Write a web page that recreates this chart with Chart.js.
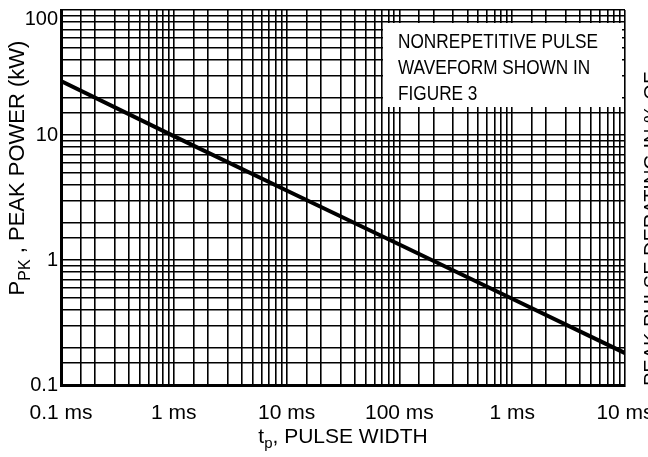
<!DOCTYPE html>
<html>
<head>
<meta charset="utf-8">
<script src="https://cdn.jsdelivr.net/npm/chart.js@4.4.0/dist/chart.umd.min.js"></script>
<style>
  html, body { margin: 0; padding: 0; background: #fff; }
  #wrap { width: 648px; height: 457px; }
</style>
</head>
<body>
<div id="wrap"><canvas id="c" width="648" height="457"></canvas></div>
<script>
// ---- data ----
const pulseWidth = [0.1, 1, 10, 100, 1000, 10000];
const peakPower  = [27, 9.8, 3.6, 1.33, 0.49, 0.18];
const xTickLabels = ["0.1 ms", "1 ms", "10 ms", "100 ms", "1 ms", "10 ms"];
const yTickLabels = ["0.1", "1", "10", "100"];
const gridSteps = [1, 1.5, 2, 3, 4, 5, 6, 7, 8, 9];
const noteLines = ["NONREPETITIVE PULSE", "WAVEFORM SHOWN IN", "FIGURE 3"];
const xTitle = { main: "t", sub: "p", rest: ", PULSE WIDTH" };
const yTitle = { main: "P", sub: "PK", rest: " , PEAK POWER (kW)" };
const rightText = "PEAK PULSE DERATING IN % OF";

const FONT = "'Liberation Sans', Arial, Helvetica, sans-serif";

function logTicks(minExp, maxExp) {
  const out = [];
  for (let e = minExp; e <= maxExp; e++) {
    for (const s of gridSteps) {
      const v = s * Math.pow(10, e);
      if (e === maxExp && s > 1) break;
      out.push({ value: v, major: s === 1 });
    }
  }
  return out;
}
function decadeIndex(v, minExp) {
  const l = Math.log10(v);
  if (Math.abs(l - Math.round(l)) > 1e-6) return -1;
  return Math.round(l) - minExp;
}

const overlay = {
  id: 'overlay',
  beforeDatasetsDraw(chart) {
    const ctx = chart.ctx;
    ctx.save();
    ctx.fillStyle = '#fff';
    ctx.fillRect(383, 23, 239, 84);
    ctx.fillStyle = '#000';
    ctx.font = "21px " + FONT;
    ctx.textBaseline = 'alphabetic';
    const base = [48, 74, 100];
    noteLines.forEach((t, i) => {
      ctx.save();
      ctx.translate(398, base[i]);
      ctx.scale(0.82, 1);
      ctx.fillText(t, 0, 0);
      ctx.restore();
    });
    ctx.restore();
  },
  afterDraw(chart) {
    const ctx = chart.ctx;
    const area = chart.chartArea;
    ctx.save();
    ctx.fillStyle = '#000';
    ctx.textBaseline = 'alphabetic';
    // x title
    ctx.font = "21px " + FONT;
    const w1 = ctx.measureText(xTitle.main).width;
    const w3 = ctx.measureText(xTitle.rest).width;
    ctx.font = "15px " + FONT;
    const w2 = ctx.measureText(xTitle.sub).width;
    let x = (area.left + area.right) / 2 - (w1 + w2 + w3) / 2;
    const by = 443;
    ctx.font = "21px " + FONT;
    ctx.fillText(xTitle.main, x, by);
    ctx.font = "15px " + FONT;
    ctx.fillText(xTitle.sub, x + w1, by + 5);
    ctx.font = "21px " + FONT;
    ctx.fillText(xTitle.rest, x + w1 + w2, by);

    // y title (rotated)
    ctx.save();
    ctx.font = "22px " + FONT;
    const v1 = ctx.measureText(yTitle.main).width;
    const v3 = ctx.measureText(yTitle.rest).width;
    ctx.font = "16px " + FONT;
    const v2 = ctx.measureText(yTitle.sub).width;
    const tot = v1 + v2 + v3;
    const cy = 168;
    ctx.translate(24, cy + tot / 2);
    ctx.rotate(-Math.PI / 2);
    ctx.font = "22px " + FONT;
    ctx.fillText(yTitle.main, 0, 0);
    ctx.font = "16px " + FONT;
    ctx.fillText(yTitle.sub, v1, 6);
    ctx.font = "22px " + FONT;
    ctx.fillText(yTitle.rest, v1 + v2, 0);
    ctx.restore();

    // clipped right-hand text
    ctx.save();
    ctx.font = "20px " + FONT;
    ctx.translate(658, 386);
    ctx.rotate(-Math.PI / 2);
    ctx.fillText(rightText, 0, 0);
    ctx.restore();
    ctx.restore();
  }
};

new Chart(document.getElementById('c'), {
  type: 'line',
  data: {
    datasets: [{
      data: pulseWidth.map((x, i) => ({ x: x, y: peakPower[i] })),
      borderColor: '#000',
      borderWidth: 4,
      pointRadius: 0,
      tension: 0,
      fill: false
    }]
  },
  options: {
    responsive: false,
    animation: false,
    devicePixelRatio: 1,
    layout: { padding: { left: 0, right: 23, top: 10, bottom: 0 } },
    plugins: { legend: { display: false }, tooltip: { enabled: false }, title: { display: false } },
    scales: {
      x: {
        type: 'logarithmic',
        min: 0.1, max: 10000,
        afterBuildTicks: s => { s.ticks = logTicks(-1, 4); },
        afterFit: s => { s.height = 72; s.paddingLeft = 0; s.paddingRight = 0; },
        grid: { color: '#000', lineWidth: 1.6, drawTicks: false },
        border: { color: '#000', width: 3 },
        ticks: {
          autoSkip: false, maxRotation: 0, minRotation: 0,
          padding: 16, color: '#000',
          font: { family: FONT, size: 21 },
          callback: v => { const i = decadeIndex(v, -1); return i >= 0 ? xTickLabels[i] : ''; }
        }
      },
      y: {
        type: 'logarithmic',
        min: 0.1, max: 100,
        afterBuildTicks: s => { s.ticks = logTicks(-1, 2); },
        afterFit: s => { s.width = 61; s.paddingTop = 0; s.paddingBottom = 0; },
        grid: { color: '#000', lineWidth: 1.6, drawTicks: false },
        border: { color: '#000', width: 3 },
        ticks: {
          autoSkip: false, padding: 3, color: '#000',
          font: { family: FONT, size: 20, lineHeight: 0.9 },
          callback: v => {
            const i = decadeIndex(v, -1);
            if (i < 0) return '';
            // top label sits just below the top edge in the reference
            return i === yTickLabels.length - 1 ? ['', yTickLabels[i]] : yTickLabels[i];
          }
        }
      }
    }
  },
  plugins: [overlay]
});
</script>
</body>
</html>
